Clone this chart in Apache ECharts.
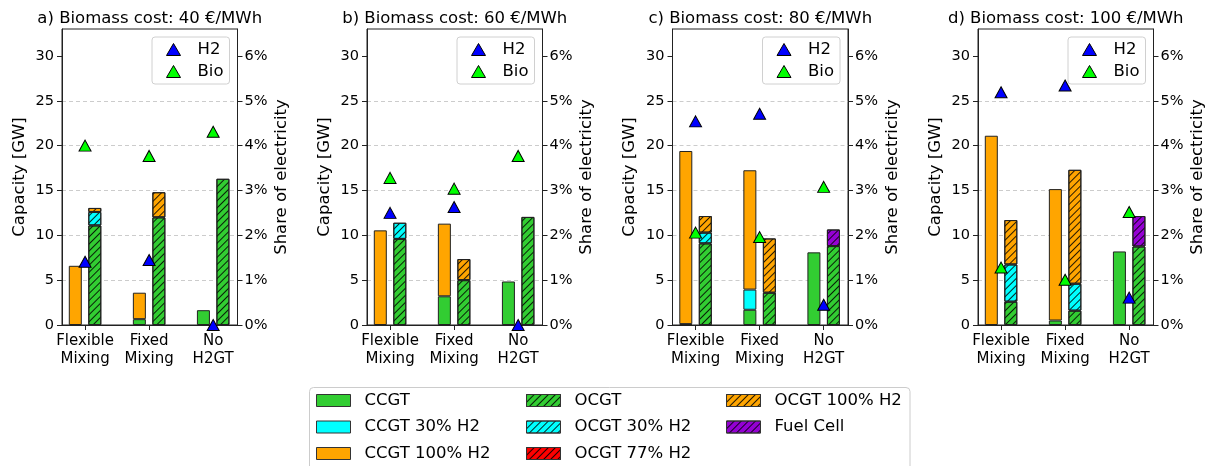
<!DOCTYPE html>
<html><head><meta charset="utf-8">
<script src="https://cdn.jsdelivr.net/npm/echarts@6/dist/echarts.min.js"></script>
<style>html,body{margin:0;padding:0;background:#fff}#c{width:1212px;height:466px}</style>
</head><body><div id="c"></div><script>
// ---------------- data ----------------
const categories = ['Flexible\nMixing', 'Fixed\nMixing', 'No\nH2GT'];
const panelTitles = ['a) Biomass cost: 40 €/MWh', 'b) Biomass cost: 60 €/MWh', 'c) Biomass cost: 80 €/MWh', 'd) Biomass cost: 100 €/MWh'];
const capacityTicks = [0, 5, 10, 15, 20, 25, 30];
const shareTicks = [0, 1, 2, 3, 4, 5, 6];
// capacities [GW], per panel (a..d), per category
const ccgt        = [[0, 0.65, 1.65], [0, 3.2, 4.85], [0.1, 1.7, 8.1], [0, 0.5, 8.2]];
const ccgt30      = [[0, 0, 0], [0, 0, 0], [0, 2.25, 0], [0, 0, 0]];
const ccgt100     = [[6.6, 2.95, 0], [10.55, 8.1, 0], [19.3, 13.3, 0], [21.1, 14.65, 0]];
const ocgt        = [[11.1, 12.0, 16.3], [9.6, 5.0, 12.05], [9.1, 3.6, 8.8], [2.6, 1.6, 8.75]];
const ocgt30      = [[1.5, 0, 0], [1.8, 0, 0], [1.2, 0, 0], [4.15, 3.0, 0]];
const ocgt77      = [[0, 0, 0], [0, 0, 0], [0, 0, 0], [0, 0, 0]];
const ocgt100     = [[0.45, 2.8, 0], [0, 2.35, 0], [1.85, 6.05, 0], [4.95, 12.7, 0]];
const fuelCell    = [[0, 0, 0], [0, 0, 0], [0, 0, 1.85], [0, 0, 3.4]];
// share of electricity [%]
const h2Share  = [[1.41, 1.45, 0], [2.5, 2.63, 0], [4.54, 4.71, 0.45], [5.19, 5.34, 0.61]];
const bioShare = [[4.0, 3.77, 4.31], [3.28, 3.04, 3.77], [2.06, 1.96, 3.08], [1.28, 1.01, 2.52]];

// ---------------- styling / layout ----------------
const FONT = 'DejaVu Sans';
const plotLeft = [62, 367, 672.5, 978];
const plotW = 175.5, plotTop = 29, plotH = 296;
const AX = '#222';
const hatch = {
  symbol: 'rect', symbolSize: 1, color: 'rgba(0,0,0,0.85)',
  dashArrayX: [1, 0], dashArrayY: [1, 4], rotation: -Math.PI / 4
};
const techs = [
  { name: 'CCGT', data: ccgt, stack: 'cc', color: '#32cd32', hatched: false },
  { name: 'CCGT 30% H2', data: ccgt30, stack: 'cc', color: '#00ffff', hatched: false },
  { name: 'CCGT 100% H2', data: ccgt100, stack: 'cc', color: '#ffa500', hatched: false },
  { name: 'OCGT', data: ocgt, stack: 'oc', color: '#32cd32', hatched: true },
  { name: 'OCGT 30% H2', data: ocgt30, stack: 'oc', color: '#00ffff', hatched: true },
  { name: 'OCGT 77% H2', data: ocgt77, stack: 'oc', color: '#ff0000', hatched: true },
  { name: 'OCGT 100% H2', data: ocgt100, stack: 'oc', color: '#ffa500', hatched: true },
  { name: 'Fuel Cell', data: fuelCell, stack: 'oc', color: '#9400d3', hatched: true }
];

const grid = [], xAxis = [], yAxis = [], series = [], title = [], legend = [];
for (let i = 0; i < 4; i++) {
  grid.push({ left: plotLeft[i], top: plotTop, width: plotW, height: plotH, show: true, borderColor: AX, borderWidth: 1, backgroundColor: 'transparent' });
  title.push({ text: panelTitles[i], left: plotLeft[i] + plotW / 2, top: 10, textAlign: 'center', padding: 0,
    textStyle: { fontSize: 16.5, fontWeight: 'normal', color: '#000', fontFamily: FONT } });
  xAxis.push({ gridIndex: i, type: 'value', min: -0.36, max: 2.38,
    splitLine: { show: false },
    axisLine: { show: true, onZero: false, lineStyle: { color: AX } },
    axisTick: { show: true, customValues: [0, 1, 2], length: 5, lineStyle: { color: AX } },
    axisLabel: { customValues: [0, 1, 2], formatter: v => categories[Math.round(v)], fontSize: 15, lineHeight: 18, color: '#000', margin: 7, fontFamily: FONT } });
  yAxis.push({ gridIndex: i, type: 'value', min: 0, max: 33, interval: 5, position: 'left',
    name: 'Capacity [GW]', nameLocation: 'middle', nameGap: 34, nameRotate: 90,
    nameTextStyle: { fontSize: 16.5, color: '#000', fontFamily: FONT },
    axisLine: { show: true, onZero: false, lineStyle: { color: AX } },
    axisTick: { show: true, customValues: capacityTicks, length: 5, lineStyle: { color: AX } },
    axisLabel: { customValues: capacityTicks, fontSize: 14.5, color: '#000', margin: 8, fontFamily: FONT },
    splitLine: { show: true, showMinLine: false, showMaxLine: false, lineStyle: { color: '#cccccc', type: [4, 3], width: 1 } } });
  yAxis.push({ gridIndex: i, type: 'value', min: 0, max: 6.6, interval: 1, position: 'right',
    name: 'Share of electricity', nameLocation: 'middle', nameGap: 36, nameRotate: 90,
    nameTextStyle: { fontSize: 16.5, color: '#000', fontFamily: FONT },
    axisLine: { show: true, onZero: false, lineStyle: { color: AX } },
    axisTick: { show: true, customValues: shareTicks, length: 5, lineStyle: { color: AX } },
    axisLabel: { customValues: shareTicks, formatter: '{value}%', fontSize: 14.5, color: '#000', margin: 7, fontFamily: FONT },
    splitLine: { show: false } });
  techs.forEach(t => {
    series.push({ type: 'bar', name: t.name, stack: t.stack + i, xAxisIndex: i, yAxisIndex: 2 * i,
      barWidth: 13, barGap: '50%', z: 2, silent: true,
      encode: { x: 1, y: 0 },
      data: t.data[i].map((v, k) => [v === 0 ? null : v, k]),
      itemStyle: Object.assign({ color: t.color, borderColor: AX, borderWidth: 1 }, t.hatched ? { decal: hatch } : {}) });
  });
  series.push({ type: 'scatter', name: 'H2', xAxisIndex: i, yAxisIndex: 2 * i + 1, z: 5, silent: true,
    symbol: 'triangle', symbolSize: [12, 11], data: h2Share[i].map((v, k) => [k, v]),
    itemStyle: { color: '#0000ff', borderColor: '#000', borderWidth: 1, opacity: 1 } });
  series.push({ type: 'scatter', name: 'Bio', xAxisIndex: i, yAxisIndex: 2 * i + 1, z: 5, silent: true,
    symbol: 'triangle', symbolSize: [12, 11], data: bioShare[i].map((v, k) => [k, v]),
    itemStyle: { color: '#00ff00', borderColor: '#000', borderWidth: 1, opacity: 1 } });
  legend.push({ data: ['H2', 'Bio'], orient: 'vertical', right: 1212 - (plotLeft[i] + plotW - 8), top: 37,
    itemWidth: 14, itemHeight: 12, itemGap: 5, padding: [4, 6, 4, 14], borderColor: '#d0d0d0', borderWidth: 1,
    borderRadius: 3, backgroundColor: 'rgba(255,255,255,0.85)', selectedMode: false,
    textStyle: { fontSize: 16.5, color: '#000', fontFamily: FONT, padding: [0, 0, 0, 12] },
    itemStyle: { borderColor: '#000', borderWidth: 1 } });
}
const legendCols = [[0, 1, 2], [3, 4, 5], [6, 7]];
const legendColX = [316, 526, 726];
legendCols.forEach((col, c) => {
  legend.push({ data: col.map(j => techs[j].name), orient: 'vertical', left: legendColX[c], top: 392,
    itemWidth: 34, itemHeight: 12, itemGap: 9.5, padding: 0, selectedMode: false, icon: 'rect',
    textStyle: { fontSize: 16.5, color: '#000', fontFamily: FONT, padding: [0, 0, 0, 9] },
    itemStyle: { borderColor: '#333', borderWidth: 1 } });
});

const chart = echarts.init(document.getElementById('c'), null, { renderer: 'canvas' });
chart.setOption({
  animation: false,
  backgroundColor: '#fff',
  textStyle: { fontFamily: FONT },
  title, grid, xAxis, yAxis, series, legend,
  graphic: [{ type: 'rect', z: -1, shape: { x: 309.5, y: 387.5, width: 600.5, height: 100, r: 4 },
    style: { fill: '#fff', stroke: '#cccccc', lineWidth: 1 } }]
});
</script></body></html>
